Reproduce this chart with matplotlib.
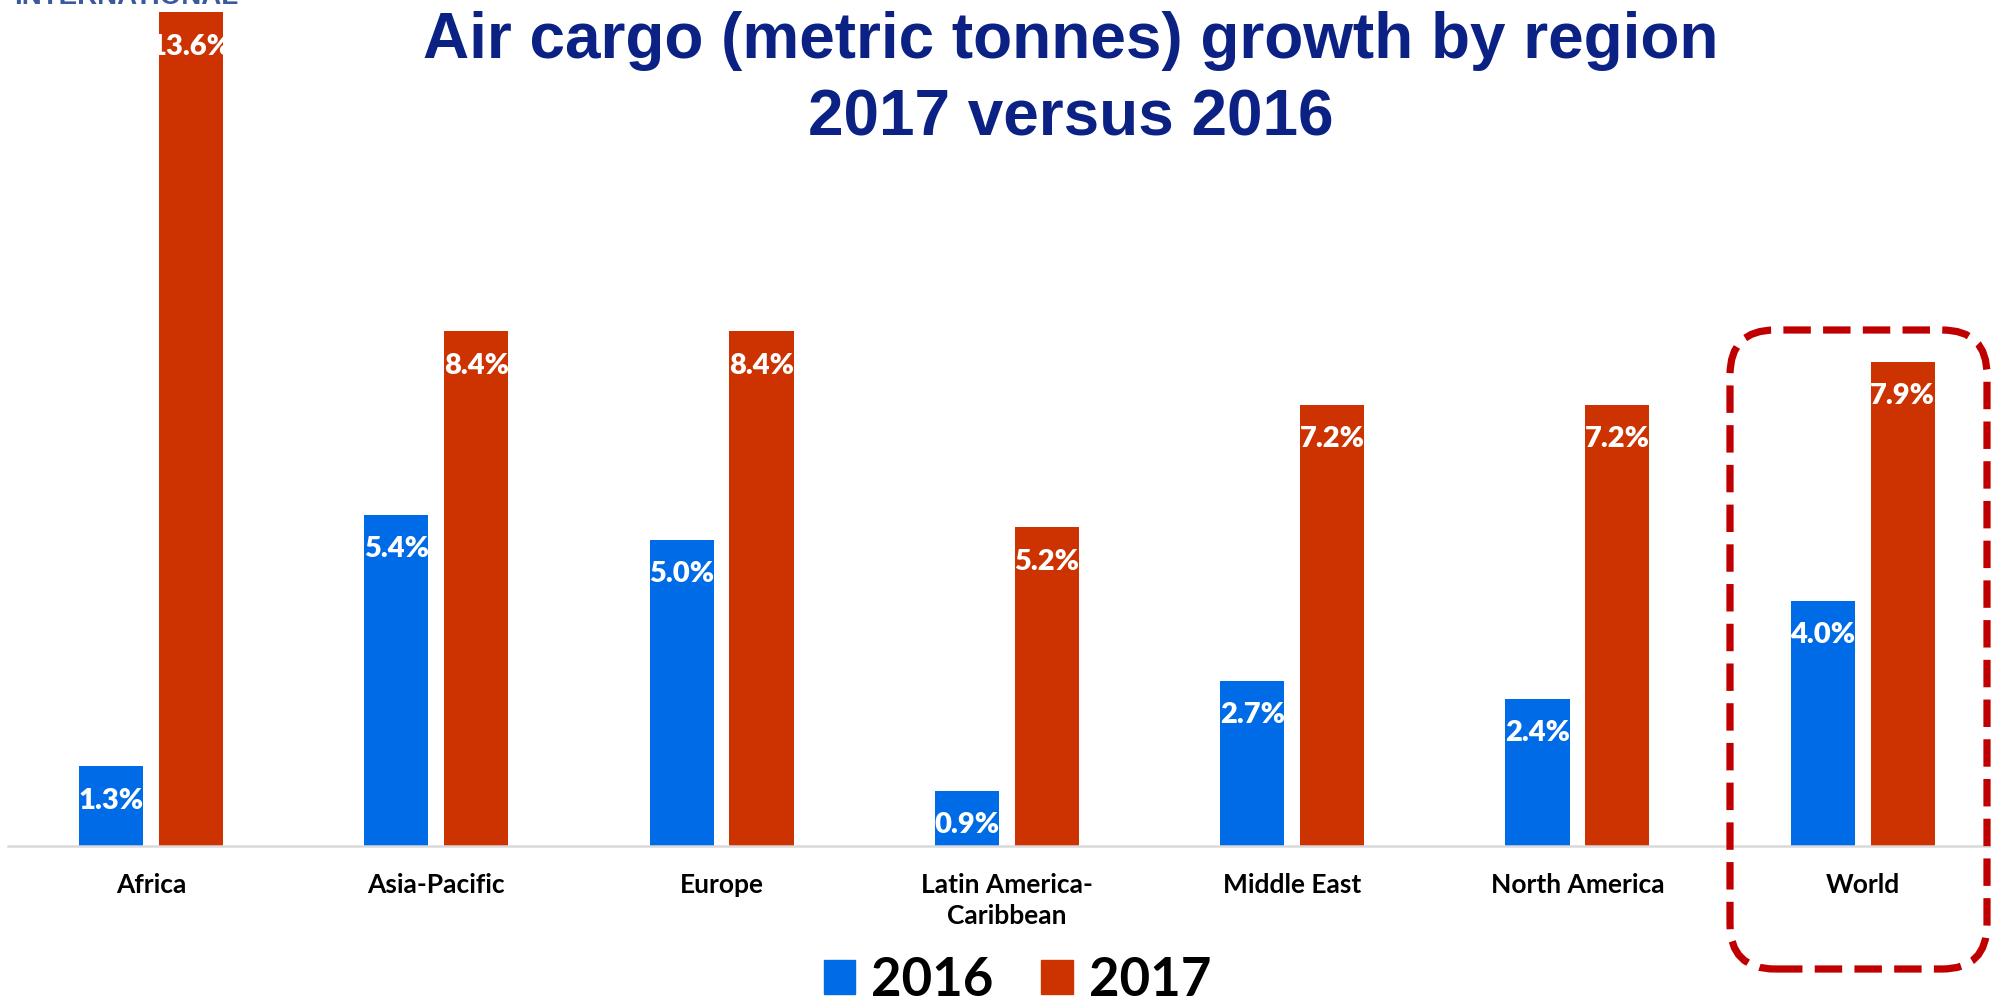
import matplotlib
matplotlib.use("Agg")
import matplotlib.pyplot as plt
from matplotlib.patches import FancyBboxPatch, Patch
import numpy as np

# growth of air cargo volumes (%), by region
regions = ["Africa", "Asia-Pacific", "Europe", "Latin America-\nCaribbean",
           "Middle East", "North America", "World"]
growth_2016 = [1.3, 5.4, 5.0, 0.9, 2.7, 2.4, 4.0]
growth_2017 = [13.6, 8.4, 8.4, 5.2, 7.2, 7.2, 7.9]
years = ["2016", "2017"]

blue = "#006BE6"
red = "#CC3300"
navy = "#0B2284"

plt.rcParams["font.family"] = ["Lato", "DejaVu Sans"]

fig = plt.figure(figsize=(19.91, 10.03), dpi=100)
ax = fig.add_axes([0.0042, 0.1555, 1.003, 0.8445])

x = np.arange(len(regions))
w = 0.225
b16 = ax.bar(x - 0.14, growth_2016, width=w, color=blue)
b17 = ax.bar(x + 0.14, growth_2017, width=w, color=red)

# value labels sit just inside the top of each bar
for bars, vals in [(b16, growth_2016), (b17, growth_2017)]:
    for bar, v in zip(bars, vals):
        ax.annotate("%.1f%%" % v, (bar.get_x() + bar.get_width() / 2, v),
                    xytext=(0, -24), textcoords="offset points",
                    ha="center", va="center", color="white",
                    fontsize=21, fontweight="heavy")

ax.set_xlim(-0.5, 6.5)
ax.set_ylim(0, 13.82)
ax.set_xticks(x)
ax.set_xticklabels(regions, fontsize=19, fontweight="bold", linespacing=1.35)
ax.tick_params(axis="x", length=0, pad=19)
ax.set_yticks([])
for s in ["top", "left", "right"]:
    ax.spines[s].set_visible(False)
ax.spines["bottom"].set_color("#D9D9D9")
ax.spines["bottom"].set_linewidth(1.8)

# title
title_font = dict(ha="center", va="baseline", fontsize=46, fontweight="bold",
                  color=navy, family=["Liberation Sans", "DejaVu Sans"])
fig.text(0.538, 0.942, "Air cargo (metric tonnes) growth by region", **title_font)
fig.text(0.538, 0.865, "2017 versus 2016", **title_font)

# logo text cut off at the top edge
fig.text(0.007, 0.996, "INTERNATIONAL", ha="left", va="baseline",
         fontsize=20, fontweight="bold", color="#3B5A9E",
         family=["Liberation Sans", "DejaVu Sans"])

# dashed highlight around the World group
box = FancyBboxPatch((17.30, 0.33), 2.57, 6.39,
                     boxstyle="round,pad=0,rounding_size=0.45",
                     transform=fig.dpi_scale_trans, fill=False,
                     edgecolor="#C00000", linewidth=5.2,
                     linestyle=(0, (3.8, 1.7)), clip_on=False)
fig.patches.append(box)

handles = [Patch(color=blue), Patch(color=red)]
fig.legend(handles, years, loc="center", bbox_to_anchor=(0.511, 0.022),
           ncol=2, frameon=False, prop={"size": 38, "weight": "bold"},
           handlelength=0.6, handleheight=0.6, handletextpad=0.3,
           columnspacing=0.9)

fig.savefig("out.png", dpi=100)
